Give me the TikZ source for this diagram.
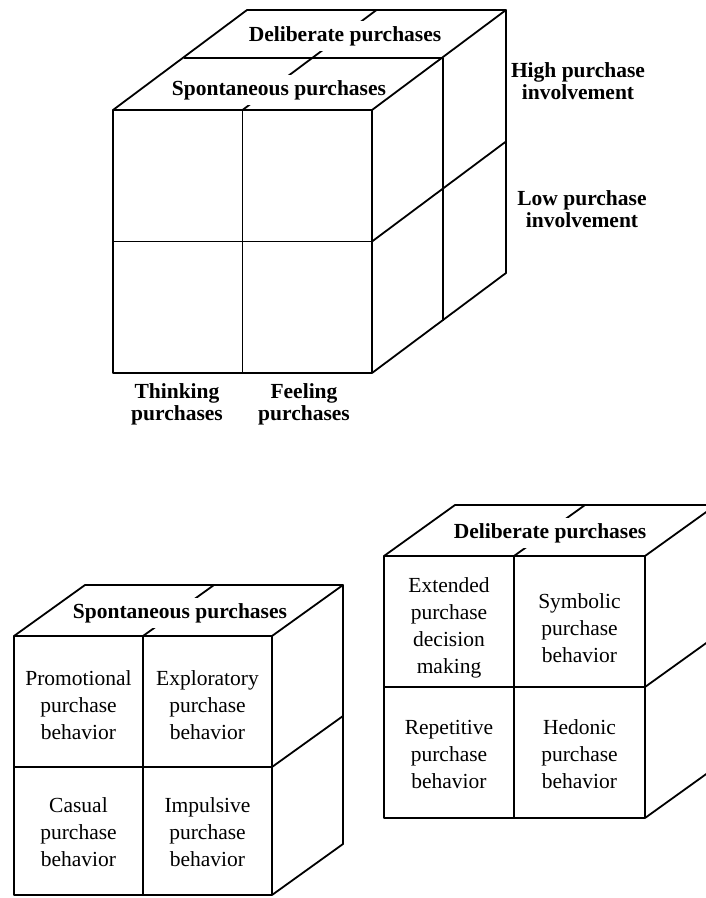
\documentclass[tikz,border=0pt]{standalone}
\usepackage{fontspec}
\setmainfont{Liberation Serif}

\begin{document}
\begin{tikzpicture}[x=1pt,y=-1pt,line width=1.8pt,line join=round,
	facelabel/.style={font=\fontsize{21.5}{22}\selectfont\bfseries, fill=white, inner xsep=0pt, inner ysep=5pt},
	axislabel/.style={font=\fontsize{21.5}{22}\selectfont\bfseries, align=center},
	celltext/.style={font=\fontsize{21.5}{27}\selectfont, align=center}]
	\useasboundingbox (0,0) rectangle (706,898);
	\clip (0,0) rectangle (706,898);

	% large cube: division on the top face, broken by its labels
	\draw (242.5,110) -- ++(134,-100);
	\node[facelabel] (deliberate) at (345,36) {Deliberate purchases};
	\node[facelabel] (spontaneous) at (279,90) {Spontaneous purchases};
	% large cube: front face
	\draw (113,110) rectangle (372,373);
	\draw (242.5,110) -- (242.5,373);
	\draw (113,241.5) -- (372,241.5);
	% large cube: top face
	\draw (113,110) -- ++(134,-100) -- ++(259,0) -- (372,110);
	\draw (184,58) -- (443,58);
	% large cube: side face
	\draw (506,10) -- (506,273) -- (372,373);
	\draw (443,58) -- (443,321);
	\draw (372,241.5) -- ++(134,-100);

	\node[axislabel] (high) at (578,81) {High purchase\\involvement};
	\node[axislabel] (low) at (582,209) {Low purchase\\involvement};
	\node[axislabel] (thinking) at (177,404) {Thinking\\purchases};
	\node[axislabel] (feeling) at (304,404) {Feeling\\purchases};

	% spontaneous cube
	\draw (143,636) -- ++(71,-51);
	\node[facelabel] (spontop) at (180,613) {Spontaneous purchases};
	\draw (14,636) rectangle (272,895);
	\draw (143,636) -- (143,895);
	\draw (14,767) -- (272,767);
	\draw (14,636) -- ++(71,-51) -- ++(258,0) -- (272,636);
	\draw (343,585) -- ++(0,259) -- (272,895);
	\draw (272,767) -- ++(71,-51);

	\node[celltext] (promotional) at (78.5,705) {Promotional\\purchase\\behavior};
	\node[celltext] (exploratory) at (207.5,705) {Exploratory\\purchase\\behavior};
	\node[celltext] (casual) at (78.5,832) {Casual\\purchase\\behavior};
	\node[celltext] (impulsive) at (207.5,832) {Impulsive\\purchase\\behavior};

	% deliberate cube
	\draw (514,556) -- ++(71,-51);
	\node[facelabel] (delibtop) at (550,533) {Deliberate purchases};
	\draw (384,556) rectangle (645,818);
	\draw (514,556) -- (514,818);
	\draw (384,687) -- (645,687);
	\draw (384,556) -- ++(71,-51) -- ++(261,0) -- (645,556);
	\draw (716,505) -- ++(0,262) -- (645,818);
	\draw (645,687) -- ++(71,-51);

	\node[celltext] (extended) at (449,628) {Extended\\purchase\\decision\\making};
	\node[celltext] (symbolic) at (579.5,628) {Symbolic\\purchase\\behavior};
	\node[celltext] (repetitive) at (449,754) {Repetitive\\purchase\\behavior};
	\node[celltext] (hedonic) at (579.5,754) {Hedonic\\purchase\\behavior};
\end{tikzpicture}
\end{document}
